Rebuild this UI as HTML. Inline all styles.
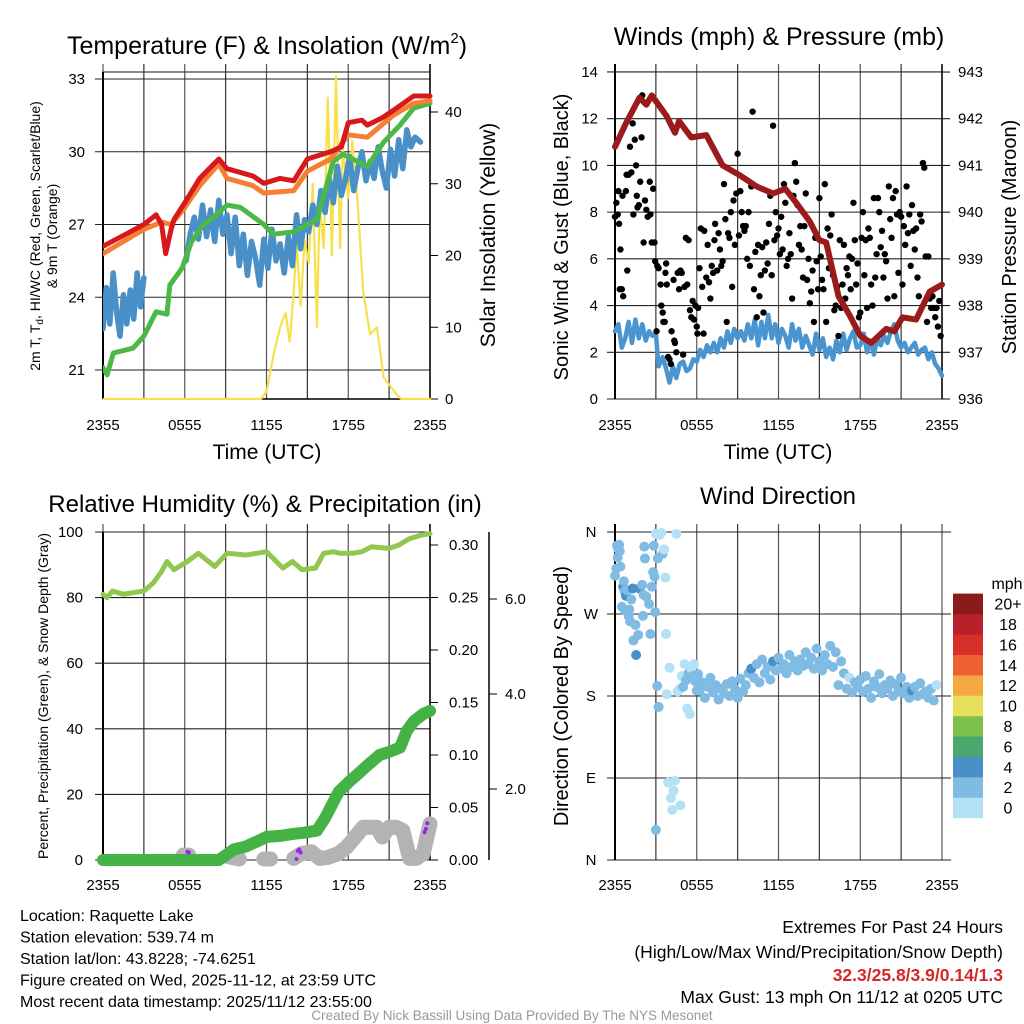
<!DOCTYPE html>
<html><head><meta charset="utf-8"><style>
html,body{margin:0;padding:0;background:#fff;}
svg{display:block;font-family:"Liberation Sans",Arial,sans-serif;}
</style></head><body>
<svg id="fig" width="1024" height="1024" viewBox="0 0 1024 1024" xmlns="http://www.w3.org/2000/svg">
<rect x="0" y="0" width="1024" height="1024" fill="#fff"/>
</svg>
<script>
// ---------- DATA ----------
const timeTicks = ["2355","0555","1155","1755","2355"];
const tempTicks = [21,24,27,30,33];
const insTicks = [0,10,20,30,40];
const windTicks = [0,2,4,6,8,10,12,14];
const presTicks = [936,937,938,939,940,941,942,943];
const rhTicks = [0,20,40,60,80,100];
const precTicks = [0.00,0.05,0.10,0.15,0.20,0.25,0.30];
const snowTicks = ["2.0","4.0","6.0"];
const dirLabels = ["N","E","S","W","N"];
const legendLabels = ["0","2","4","6","8","10","12","14","16","18","20+"];
const legendColors = ["#b3e2f7","#80bbe4","#4a90c8","#4aa86e","#7dc04a","#e6e05a","#f5a742","#ee6030","#d7302a","#b8202a","#8b1a1a"];

const redT = [0,1,2,3,3.9,4.3,4.6,5.0,5.2,6,7.1,8.5,9.1,11,11.8,13,14,15,16.7,17.5,18,19,19.4,20.5,21.3,22.8,24];
const redV = [26.1,26.4,26.7,27.0,27.4,27.0,25.8,26.8,27.2,27.9,28.9,29.7,29.3,29.0,28.7,28.9,28.8,29.7,30.0,30.2,31.2,31.3,31.1,31.4,31.7,32.3,32.3];
const orangeT = [0,3,4.3,5,6,7.1,8.5,9.1,11,11.8,14,15,16.7,18,19.4,21.3,22.8,24];
const orangeV = [25.8,26.8,27.1,27.0,27.7,28.6,29.5,28.9,28.6,28.3,28.4,29.2,29.7,30.7,30.6,31.5,32.0,32.1];
const greenT = [0,0.3,0.76,2.2,3.0,3.9,4.7,4.9,5.8,6.5,7.4,8.1,9.1,10.1,11.8,12.5,14,15.7,16.9,17.6,19.4,20.6,21.8,22.8,24];
const greenV = [21.1,20.8,21.7,21.9,22.4,23.4,23.3,24.5,25.2,26.3,27.0,27.3,27.8,27.7,27.0,26.6,26.7,27.2,29.6,29.9,29.4,30.4,31.1,31.8,32.0];
const blue1T = [0,0.25,0.5,0.75,1,1.25,1.5,1.75,2,2.25,2.5,2.75,3.0];
const blue1V = [22.7,24.4,22.9,25.0,23.4,22.4,24.1,22.9,24.3,23.1,25.0,23.6,24.8];
const blue2T = [6.1,6.4,6.7,7.0,7.3,7.6,7.9,8.2,8.5,8.8,9.1,9.4,9.7,10.0,10.3,10.6,10.9,11.2,11.5,11.8,12.1,12.4,12.7,13.0,13.3,13.6,13.9,14.2,14.5,14.8,15.1,15.4,15.7,16.0,16.3,16.6,16.9,17.2,17.5,17.8,18.1,18.4,18.7,19.0,19.3,19.6,19.9,20.2,20.5,20.8,21.1,21.4,21.7,22.0,22.3,22.6,22.9,23.3];
const blue2V = [25.5,26.6,27.3,26.4,27.8,26.5,27.6,26.3,28.0,26.6,27.4,25.8,27.3,25.3,26.6,24.9,26.3,25.6,24.5,26.4,25.2,26.8,25.5,26.2,25.0,26.5,25.3,27.4,26.0,27.2,26.7,27.8,27.0,28.4,27.5,28.9,27.9,29.4,28.2,28.9,29.8,28.4,29.3,30.0,28.8,29.6,28.9,30.2,29.2,28.5,30.1,29.0,30.5,29.3,30.9,30.2,30.6,30.4];
const insT = [0,11.6,12.0,12.5,13.0,13.4,13.7,14.0,14.2,14.5,14.8,15.1,15.4,15.7,15.9,16.2,16.5,16.8,17.1,17.4,17.6,18.0,18.3,18.7,19.1,19.6,20.1,20.6,21.0,21.6,21.9,24];
const insV = [0,0,1,6,10,12,8,15,22,13,22,19,30,10,27,21,42,20,45,21,35,28,36,27,15,9,10,3,2,0.5,0,0];

const presT = [0,0.8,1.8,2.3,2.7,3.8,4.4,4.7,5.6,6.7,7.9,9.1,10.4,11.6,12.5,13.3,14.3,15,15.5,16.4,17.2,18,18.8,19.9,20.5,21.1,22.1,23.1,24];
const presV = [941.4,941.9,942.45,942.3,942.5,942.05,941.7,941.95,941.6,941.65,941.0,940.8,940.55,940.4,940.5,940.2,939.8,939.4,939.35,938.2,937.8,937.35,937.2,937.5,937.45,937.75,937.7,938.3,938.45];
const sonicT = [0,0.25,0.5,0.75,1,1.25,1.5,1.75,2,2.25,2.5,2.75,3,3.2,3.5,3.75,4,4.25,4.5,4.75,5,5.25,5.5,5.75,6,6.25,6.5,6.75,7,7.25,7.5,7.75,8,8.25,8.5,8.75,9,9.25,9.5,9.75,10,10.25,10.5,10.75,11,11.25,11.5,11.75,12,12.25,12.5,12.75,13,13.25,13.5,13.75,14,14.25,14.5,14.75,15,15.25,15.5,15.75,16,16.25,16.5,16.75,17,17.25,17.5,17.75,18,18.25,18.5,18.75,19,19.25,19.5,19.75,20,20.25,20.5,20.75,21,21.25,21.5,21.75,22,22.25,22.5,22.75,23,23.25,23.5,23.75,24];
const sonicV = [2.9,3.2,2.2,2.6,3.3,2.4,3.4,2.6,3.2,2.5,2.9,2.7,2.8,1.4,1.8,1.3,0.7,1.4,0.9,1.5,1.6,1.2,1.3,1.7,1.6,2.1,1.8,2.3,2.0,2.4,2.0,2.6,2.2,2.9,2.4,3.0,2.6,2.9,2.5,3.2,2.6,3.4,2.3,3.3,2.6,3.6,2.6,3.2,2.4,3.0,2.7,2.2,3.2,2.5,3.0,2.2,2.7,2.3,1.9,2.8,2.1,2.6,1.8,2.2,1.7,2.5,2.0,2.8,2.1,2.6,2.9,2.2,2.3,2.8,2.0,2.5,1.9,2.6,2.3,2.7,2.4,2.9,3.2,2.5,2.2,2.4,2.0,2.2,2.4,1.9,2.1,2.2,1.7,2.0,1.5,1.3,1.0];
const gustT = [0,0.1,0.2,0.25,0.3,0.35,0.4,0.5,0.55,0.6,0.8,0.85,0.9,1.0,1.1,1.2,1.3,1.35,1.45,1.55,1.6,1.65,1.75,1.85,1.95,2.0,2.1,2.2,2.3,2.4,2.55,2.6,2.7,2.8,2.9,2.95,3.05,3.1,3.2,3.35,3.4,3.5,3.55,3.65,3.7,3.75,3.8,3.9,4.0,4.1,4.15,4.3,4.35,4.4,4.5,4.6,4.7,4.8,4.9,5.0,5.1,5.2,5.3,5.4,5.5,5.6,5.7,5.8,5.9,6.0,6.05,6.1,6.2,6.3,6.4,6.5,6.55,6.7,6.8,6.9,7.0,7.1,7.2,7.3,7.35,7.5,7.6,7.7,7.8,7.9,8.0,8.1,8.2,8.3,8.4,8.5,8.6,8.7,8.8,8.9,9.0,9.1,9.2,9.3,9.4,9.5,9.6,9.7,9.8,9.9,10.0,10.1,10.2,10.3,10.4,10.5,10.6,10.7,10.8,10.9,11.0,11.1,11.2,11.3,11.4,11.5,11.6,11.7,11.8,11.9,12.0,12.1,12.2,12.3,12.4,12.5,12.6,12.7,12.8,12.9,13.0,13.1,13.2,13.3,13.4,13.5,13.6,13.7,13.8,13.9,14.0,14.1,14.2,14.3,14.4,14.5,14.6,14.7,14.8,14.9,15.0,15.1,15.2,15.3,15.4,15.5,15.6,15.7,15.8,15.9,16.0,16.1,16.2,16.3,16.4,16.5,16.6,16.7,16.8,16.9,17.0,17.1,17.2,17.3,17.4,17.5,17.6,17.7,17.8,17.9,18.0,18.1,18.2,18.3,18.4,18.5,18.6,18.7,18.8,18.9,19.0,19.1,19.2,19.3,19.4,19.5,19.6,19.7,19.8,19.9,20.0,20.1,20.2,20.3,20.4,20.5,20.6,20.7,20.8,20.9,21.0,21.1,21.2,21.3,21.4,21.5,21.6,21.7,21.8,21.9,22.0,22.1,22.2,22.3,22.4,22.5,22.6,22.7,22.8,22.9,23.0,23.1,23.2,23.3,23.4,23.5,23.6,23.7,23.8,23.9];
const gustV = [7.8,8.4,7.9,8.9,7.5,4.7,6.4,4.7,8.7,4.4,8.9,9.6,5.5,9.6,10.8,9.7,11.8,7.9,11.1,10.0,8.7,8.2,8.3,9.3,11.2,13.0,6.7,8.5,8.1,7.8,9.3,7.9,6.7,9.0,6.7,5.9,2.9,5.7,5.6,4.9,4.0,3.7,3.3,3.3,5.4,5.8,4.9,1.8,1.7,1.5,2.9,5.1,2.5,2.4,2.0,5.4,4.7,5.5,5.4,1.9,4.8,6.9,4.9,6.8,3.8,3.5,4.2,3.4,4.0,3.1,2.8,3.9,5.6,7.3,4.8,2.8,7.2,5.2,6.6,5.0,4.3,5.7,5.4,6.8,7.5,5.5,7.1,6.4,5.7,5.9,9.2,7.7,3.3,7.1,6.9,8.0,4.8,8.5,6.6,8.8,10.5,7.0,8.9,8.0,7.4,7.2,7.4,6.0,8.0,5.7,9.1,12.3,4.7,6.3,3.5,6.6,4.4,5.3,6.5,3.7,5.5,6.7,5.8,7.5,8.7,5.3,11.7,6.8,8.0,7.0,7.3,6.2,7.8,6.4,9.2,8.4,5.7,6.0,7.1,6.2,4.3,8.7,10.1,9.3,8.3,6.6,7.4,6.4,5.2,7.4,8.8,5.1,6.0,4.1,4.6,5.5,3.3,6.9,5.9,4.7,8.6,6.1,5.1,4.7,9.2,3.3,7.3,5.6,7.0,7.9,5.3,3.8,4.0,4.8,2.7,6.8,3.9,4.9,6.6,4.3,5.6,5.3,6.1,4.7,6.0,8.4,6.8,4.9,5.8,3.5,3.7,6.9,8.0,5.3,6.8,3.9,7.3,6.9,4.9,4.0,8.6,5.2,6.2,8.6,8.0,6.5,7.2,5.2,6.2,5.9,4.3,9.1,7.7,6.9,8.6,4.4,8.9,7.9,5.4,8.0,7.8,4.9,7.4,6.6,9.1,7.1,7.9,5.7,8.3,7.2,6.4,7.3,5.2,4.4,7.9,7.6,10.1,9.9,6.1,3.3,6.1,4.3,3.9,4.4,3.9,3.5,3.9,3.1,4.2,2.7];

const rhT = [0,0.3,0.7,1.5,2.2,3.0,3.7,4.3,4.7,5.2,6.2,7.0,8.2,9.1,10.5,12,13.2,13.9,14.6,15.6,16.2,16.9,17.4,18.3,19,19.7,21.0,21.7,22.5,23.3,24];
const rhV = [81,80,82,81,81.5,82,84.5,88,91,88.5,91,93.5,89.5,93.5,93,94,89,91,88.5,89,93.5,94,93.5,93.5,94,95.5,95,96,98,99,99.5];
const precT = [0,8.5,9.6,10.5,11.2,12,13,14,14.8,15.7,16.3,16.7,17.3,18.1,18.8,19.4,20.3,21.0,21.8,22.3,22.8,23.5,24];
const precV = [0,0,0.010,0.013,0.017,0.022,0.023,0.025,0.026,0.028,0.040,0.050,0.065,0.075,0.083,0.090,0.100,0.103,0.107,0.123,0.132,0.139,0.142];
const snowT = [5.9,6.3,null,9.2,10.0,null,11.8,12.3,null,14.0,14.6,15.3,15.9,16.5,17.3,17.9,18.5,19.1,19.7,20.1,20.5,21.0,21.5,22.0,22.5,23.0,23.5,24.0];
const snowV = [1.5,1.5,null,1,0.3,null,0.3,0.3,null,0.5,2,2.5,0.5,0.8,2,4,7,10,10,10,7,10,10,9,0.5,0.5,2,11];
const purpleT = [6.2,6.3,14.2,14.3,14.4,14.5,23.6,23.7,23.8];
const purpleV = [2.5,2.3,0.3,2.8,3.2,2.3,8.5,9.5,11.2];

const dirT = [0,0.1,0.15,0.2,0.25,0.3,0.35,0.4,0.5,0.6,0.65,0.7,0.75,0.8,0.9,1.0,1.05,1.1,1.2,1.3,1.35,1.5,1.55,1.7,1.8,2.0,2.05,2.1,2.15,2.2,2.3,2.5,2.6,2.7,2.8,2.85,2.9,2.95,3.0,3.0,3.1,3.15,3.2,3.3,3.4,3.5,3.6,3.7,3.75,3.8,3.9,4.0,4.1,4.2,4.3,4.4,4.5,4.6,4.7,4.8,4.9,5.0,5.1,5.2,5.3,5.4,5.5,5.6,5.7,5.8,5.9,6.0,6.1,
6.2,6.4,6.6,6.8,7.0,7.2,7.4,7.6,7.8,8.0,8.2,8.4,8.6,8.8,9.0,9.2,9.4,9.6,9.8,10.0,10.2,10.4,10.6,10.8,11.0,11.2,11.4,11.6,11.8,12.0,12.2,12.4,12.6,12.8,13.0,13.2,13.4,13.6,13.8,14.0,14.2,14.4,14.6,14.8,15.0,15.2,15.4,15.6,15.8,16.0,16.2,16.4,16.6,16.8,17.0,17.2,17.4,17.6,17.8,18.0,18.2,18.4,18.6,18.8,19.0,19.2,19.4,19.6,19.8,20.0,20.2,20.4,20.6,20.8,21.0,21.2,21.4,21.6,21.8,22.0,22.2,22.4,22.6,22.8,23.0,23.2,23.4,23.6,23.8,24.0];
const dirD = [312,320,345,332,341,346,339,322,278,300,306,295,274,290,296,268,275,262,286,298,241,258,225,247,298,302,268,291,344,331,289,281,248,300,316,345,311,272,358,33,191,331,168,357,359,336,341,310,248,182,85,211,68,55,76,87,358,185,187,60,202,190,215,197,166,205,160,210,202,215,196,186,204,
186,195,178,190,200,184,192,176,188,183,193,180,196,188,178,199,185,192,205,210,200,215,195,220,205,212,198,218,208,222,210,215,205,225,212,218,208,220,213,228,215,222,210,232,218,208,225,215,235,212,228,192,218,205,188,200,184,195,190,198,185,202,188,178,196,190,204,183,192,188,197,180,193,185,200,183,190,178,186,190,180,194,182,185,178,188,175,192,170,183];
const dirS = [2,2,2,2,2,2,2,2,2,4,2,2,2,4,2,2,2,2,2,4,2,2,4,2,4,2,2,2,2,2,2,2,2,2,2,2,2,2,0,2,2,2,2,0,0,2,0,0,0,0,0,0,0,0,0,0,0,0,0,0,0,2,0,2,0,2,0,0,2,0,2,2,2,
2,2,2,2,2,2,2,2,2,2,2,2,2,2,2,2,2,2,2,4,2,2,2,2,2,2,2,4,2,2,2,2,2,2,2,2,2,2,2,2,2,2,2,2,2,2,2,2,2,2,2,2,2,2,2,0,2,2,2,2,2,2,2,2,2,2,2,2,2,2,2,2,2,2,2,2,2,2,4,2,2,2,2,2,2,2,2,0];

// ---------- SCALES ----------
const xT = h => 103 + h*13.625;
const yTemp = t => 370 - (t-21)*24.25;
const yIns = v => 399 - v*7.175;
const xW = h => 615 + h*13.625;
const yWind = v => 399 - v*23.36;
const yPres = p => 399 - (p-936)*46.71;
const yRH = v => 860 - v*3.28;
const yPrec = v => 860 - v*1050;
const ySnowAx = v => 884 - v*47.5;
const yDir = d => 860 - d*0.9111;

const NS = "http://www.w3.org/2000/svg";
const svg = document.getElementById('fig');
function mk(tag, attrs, parent){
  const e = document.createElementNS(NS, tag);
  for (const k in attrs) e.setAttribute(k, attrs[k]);
  (parent||svg).appendChild(e);
  return e;
}
function txt(x,y,s,size,anchor,parent,extra){
  const e = mk('text', Object.assign({x:x,y:y,'font-size':size,'text-anchor':anchor||'start',fill:'#000'}, extra||{}), parent);
  e.textContent = s;
  return e;
}
function pathD(ts, vs, xs, ys){
  let d = '', pen = false;
  const n = Math.min(ts.length, vs.length);
  for (let i=0;i<n;i++){
    if (ts[i]===null || vs[i]===null){ pen=false; continue; }
    d += (pen?'L':'M') + xs(ts[i]).toFixed(1) + ' ' + ys(vs[i]).toFixed(1) + ' ';
    pen = true;
  }
  return d;
}
function grid(g, x0, x1, y0, y1, xs, hVals, ys){
  for (let i=0;i<=8;i++){
    const x = xs(i*3);
    const l = mk('line',{x1:x,x2:x,y1:y0-8,y2:y1,stroke:i%2?'#333':'#555','stroke-width':1.2},g);
    
    
  }
  hVals.forEach(v=>{
    const y = ys(v);
    const l = mk('line',{x1:x0-8,x2:x1,y1:y,y2:y,stroke:'#222','stroke-width':1.1},g);
    
    
  });
}
function xLabels(g, xs, y){
  timeTicks.forEach((s,i)=>{
    const t = txt(xs(i*6), y, s, 15, 'middle', g);
    
    
  });
}
function rotText(x,y,s,size,g){
  return txt(x,y,s,size,'middle',g,{transform:`rotate(-90 ${x} ${y})`});
}

// ========== PANEL 1: Temperature ==========
const p1 = mk('g',{});


let t1 = mk('text',{x:267,y:54,'font-size':25,'text-anchor':'middle'},p1);
t1.innerHTML = 'Temperature (F) &amp; Insolation (W/m<tspan font-size="15" dy="-11">2</tspan><tspan dy="11">)</tspan>';


grid(p1,103,430,72,399,xT,tempTicks,yTemp);
let f1 = mk('line',{x1:103,x2:430,y1:72,y2:72,stroke:'#444','stroke-width':1.2},p1);


let b1 = mk('line',{x1:103,x2:430,y1:399,y2:399,stroke:'#000','stroke-width':1.5},p1);


let l1 = mk('line',{x1:103,x2:103,y1:72,y2:399,stroke:'#000','stroke-width':2},p1);


let r1 = mk('line',{x1:430,x2:430,y1:64,y2:399,stroke:'#000','stroke-width':1.5},p1);


tempTicks.forEach(v=>{
  const t = txt(85, yTemp(v)+5, String(v), 15, 'end', p1);
  
  
});
insTicks.forEach(v=>{
  const tk = mk('line',{x1:430,x2:438,y1:yIns(v),y2:yIns(v),stroke:'#000'},p1);
  
  
  const t = txt(445, yIns(v)+5, String(v), 15, 'start', p1);
  
  
});
xLabels(p1, xT, 430);
let xt1 = txt(267,459,'Time (UTC)',21,'middle',p1);


let yt1a = rotText(40,236,'',14,p1);
yt1a.innerHTML = '2m T, T<tspan font-size="10" dy="3">d</tspan><tspan dy="-3">, HI/WC (Red, Green, Scarlet/Blue)</tspan>';


let yt1b = rotText(57,236,'& 9m T (Orange)',14,p1);


let yt1c = rotText(495,235,'Solar Insolation (Yellow)',21,p1);


const clip1 = mk('clipPath',{id:'c1'}); mk('rect',{x:103,y:64,width:330,height:336},clip1);
const s1 = mk('g',{'clip-path':'url(#c1)',fill:'none','stroke-linejoin':'round','stroke-linecap':'round'},p1);
let sIns = mk('path',{d:pathD(insT,insV,xT,yIns),stroke:'#f7e04b','stroke-width':2.2},s1);


let sB1 = mk('path',{d:pathD(blue1T,blue1V,xT,yTemp),stroke:'#4a90c8','stroke-width':5.5},s1);


let sB2 = mk('path',{d:pathD(blue2T,blue2V,xT,yTemp),stroke:'#4a90c8','stroke-width':5.5},s1);


let sG = mk('path',{d:pathD(greenT,greenV,xT,yTemp),stroke:'#4cb848','stroke-width':5},s1);


let sO = mk('path',{d:pathD(orangeT,orangeV,xT,yTemp),stroke:'#f57f32','stroke-width':5},s1);


let sR = mk('path',{d:pathD(redT,redV,xT,yTemp),stroke:'#d7191c','stroke-width':5},s1);



// ========== PANEL 2: Winds ==========
const p2 = mk('g',{});


let t2 = txt(779,45,'Winds (mph) & Pressure (mb)',25,'middle',p2);


grid(p2,615,942,72,399,xW,windTicks,yWind);
let l2 = mk('line',{x1:615,x2:615,y1:64,y2:399,stroke:'#000','stroke-width':2},p2);


let r2 = mk('line',{x1:942,x2:942,y1:64,y2:399,stroke:'#000','stroke-width':1.5},p2);


windTicks.forEach(v=>{
  const t = txt(598, yWind(v)+5, String(v), 15, 'end', p2);
  
  
});
presTicks.forEach(v=>{
  const tk = mk('line',{x1:942,x2:950,y1:yPres(v),y2:yPres(v),stroke:'#000'},p2);
  
  
  const t = txt(958, yPres(v)+5, String(v), 15, 'start', p2);
  
  
});
xLabels(p2, xW, 430);
let xt2 = txt(778,459,'Time (UTC)',21,'middle',p2);


let yt2 = rotText(568,237,'Sonic Wind & Gust (Blue, Black)',20,p2);


let yt2b = rotText(1016,237,'Station Pressure (Maroon)',20,p2);


const s2 = mk('g',{fill:'none','stroke-linejoin':'round','stroke-linecap':'round'},p2);
let sSon = mk('path',{d:pathD(sonicT,sonicV,xW,yWind),stroke:'#4a95d0','stroke-width':4.5},s2);


const gGust = mk('g',{fill:'#000'},s2);


for (let i=0;i<Math.min(gustT.length,gustV.length);i++){
  const c = mk('circle',{cx:xW(gustT[i]),cy:yWind(gustV[i]),r:3.2},gGust);
  
  
}
let sPres = mk('path',{d:pathD(presT,presV,xW,yPres),stroke:'#9b1b1b','stroke-width':6},s2);



// ========== PANEL 3: RH & Precip ==========
const p3 = mk('g',{});


let t3 = txt(265,512,'Relative Humidity (%) & Precipitation (in)',24,'middle',p3);


grid(p3,103,430,532,860,xT,rhTicks,yRH);
let l3 = mk('line',{x1:103,x2:103,y1:532,y2:860,stroke:'#000','stroke-width':2},p3);


let r3 = mk('line',{x1:430,x2:430,y1:524,y2:860,stroke:'#000','stroke-width':1.5},p3);


rhTicks.forEach(v=>{
  const t = txt(83, yRH(v)+5, String(v), 15, 'end', p3);
  
  
});
precTicks.forEach(v=>{
  const tk = mk('line',{x1:430,x2:438,y1:yPrec(v),y2:yPrec(v),stroke:'#000'},p3);
  
  
  const t = txt(449, yPrec(v)+5, v.toFixed(2), 15, 'start', p3);
  
  
});
let ax3 = mk('line',{x1:489,x2:489,y1:532,y2:860,stroke:'#000','stroke-width':1.5},p3);


snowTicks.forEach(s=>{
  const y = ySnowAx(parseFloat(s));
  const tk = mk('line',{x1:489,x2:497,y1:y,y2:y,stroke:'#000'},p3);
  
  
  const t = txt(505, y+5, s, 15, 'start', p3);
  
  
});
xLabels(p3, xT, 890);
let yt3 = rotText(48,696,'Percent, Precipitation (Green), & Snow Depth (Gray)',14,p3);


const s3 = mk('g',{fill:'none','stroke-linejoin':'round','stroke-linecap':'round'},p3);
let sSnow = mk('path',{d:pathD(snowT,snowV,xT,yRH),stroke:'#b3b3b3','stroke-width':15},s3);


let sPrec = mk('path',{d:pathD(precT,precV,xT,yPrec),stroke:'#44b244','stroke-width':12},s3);


let sRH = mk('path',{d:pathD(rhT,rhV,xT,yRH),stroke:'#8fc74f','stroke-width':5},s3);


const gPur = mk('g',{fill:'#a020f0'},p3);


for (let i=0;i<purpleT.length;i++){
  const c = mk('circle',{cx:xT(purpleT[i]),cy:yRH(purpleV[i]),r:2},gPur);
  
  
}

// ========== PANEL 4: Wind Direction ==========
const p4 = mk('g',{});


let t4 = txt(778,504,'Wind Direction',24,'middle',p4);


grid(p4,615,951,532,860,xW,[0,90,180,270,360],yDir);
let l4 = mk('line',{x1:615,x2:615,y1:524,y2:860,stroke:'#000','stroke-width':2},p4);


dirLabels.forEach((s,i)=>{
  const t = txt(591, yDir(i*90)+5, s, 15, 'middle', p4);
  
  
});
xLabels(p4, xW, 890);
let yt4 = rotText(568,696,'Direction (Colored By Speed)',20,p4);


const gDir = mk('g',{},p4);


for (let i=0;i<Math.min(dirT.length,dirD.length,dirS.length);i++){
  const c = mk('circle',{cx:xW(dirT[i]),cy:yDir(dirD[i]),r:5,fill:legendColors[Math.min(10,Math.floor(dirS[i]/2))]},gDir);
  
  
}
const gLeg = mk('g',{},p4);


let legT = txt(1007,589,'mph',16,'middle',gLeg);


legendLabels.forEach((s,i)=>{
  const y = 818 - (i+1)*20.4;
  const r = mk('rect',{x:953,y:y,width:30,height:20.6,fill:legendColors[i]},gLeg);
  
  
  const t = txt(1008, y+16, s, 16, 'middle', gLeg);
  
  
});

// ========== FOOTER ==========
const info = ["Location: Raquette Lake","Station elevation: 539.74 m","Station lat/lon: 43.8228; -74.6251","Figure created on Wed, 2025-11-12, at 23:59 UTC","Most recent data timestamp: 2025/11/12 23:55:00"];
const gInfo = mk('g',{},svg);


info.forEach((s,i)=>{
  const t = txt(20, 921+i*21.5, s, 16, 'start', gInfo);
  
  
});
const gEx = mk('g',{},svg);


let e1 = txt(1003,933,'Extremes For Past 24 Hours',17.5,'end',gEx);


let e2 = txt(1003,958,'(High/Low/Max Wind/Precipitation/Snow Depth)',17.5,'end',gEx);


let e3 = txt(1003,981,'32.3/25.8/3.9/0.14/1.3',17.5,'end',gEx,{fill:'#d62728','font-weight':'bold'});


let e4 = txt(1003,1003,'Max Gust: 13 mph On 11/12 at 0205 UTC',17.5,'end',gEx);


let cr = txt(512,1020,'Created By Nick Bassill Using Data Provided By The NYS Mesonet',13.5,'middle',svg,{fill:'#999'});


</script>
</body></html>
